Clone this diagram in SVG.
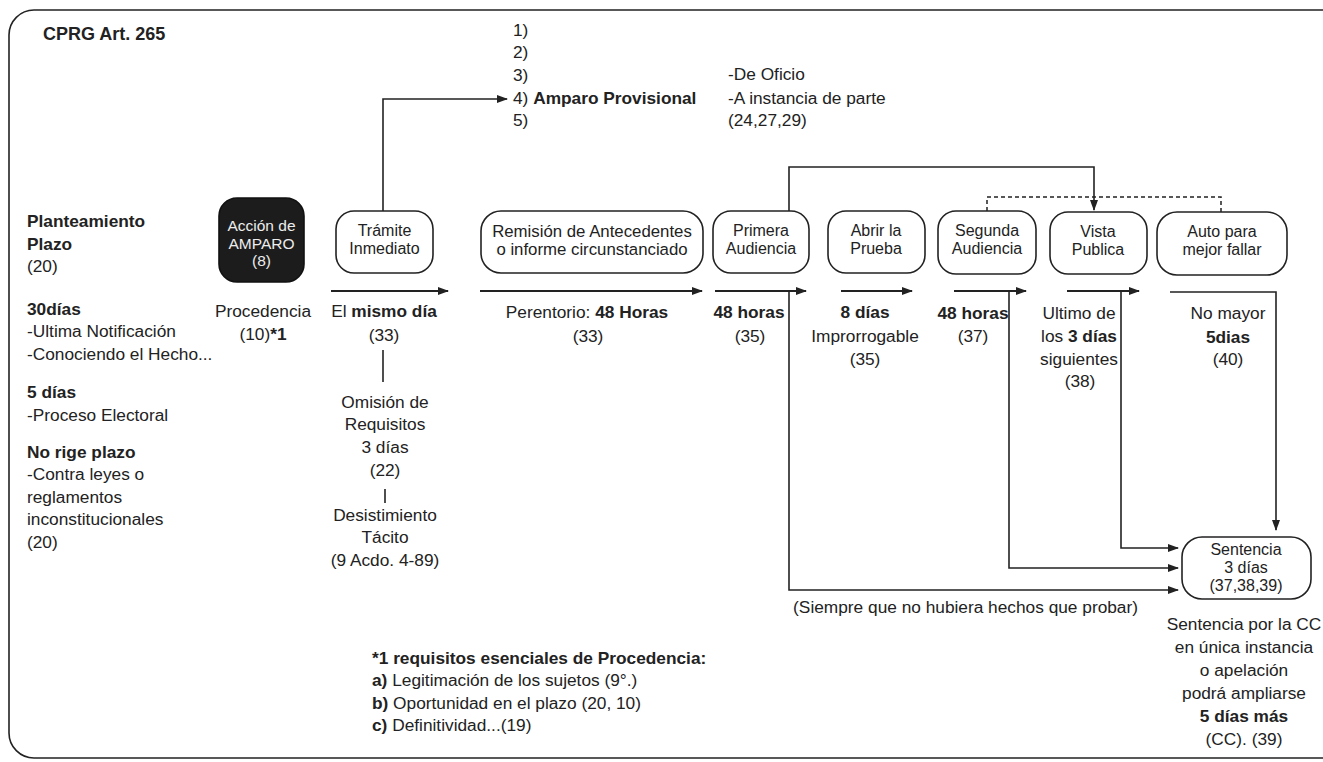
<svg xmlns="http://www.w3.org/2000/svg" width="1323" height="762" viewBox="0 0 1323 762">
<style>
text{font-family:"Liberation Sans",Arial,sans-serif;font-size:17.3px;fill:#222}
.b{font-weight:bold}
.c{text-anchor:middle}
.e{text-anchor:end}
.n{font-size:16px}
.box{fill:#fff;stroke:#222;stroke-width:1.6}
.ln{fill:none;stroke:#222;stroke-width:1.6}
.ar{fill:none;stroke:#222;stroke-width:2}
.dash{fill:none;stroke:#222;stroke-width:1.5;stroke-dasharray:4 3}
.w{fill:#ececec;font-size:15.5px}
</style>
<defs>
<marker id="ah" markerUnits="userSpaceOnUse" markerWidth="11" markerHeight="8" refX="10" refY="4" orient="auto">
<path d="M0,0 L11,4 L0,8 z" fill="#222"/>
</marker>
</defs>
<rect width="1323" height="762" fill="#fff"/>
<rect x="9" y="10" width="1340" height="748" rx="25" fill="none" stroke="#222" stroke-width="1.6"/>

<g id="titulo"><text x="43" y="40" class="b" style="font-size:18px">CPRG Art. 265</text></g>

<g id="lista">
<text x="513" y="36">1)</text>
<text x="513" y="58">2)</text>
<text x="513" y="81">3)</text>
<text x="513" y="104">4) <tspan class="b">Amparo Provisional</tspan></text>
<text x="513" y="126">5)</text>
<text x="728" y="80">-De Oficio</text>
<text x="728" y="104">-A instancia de parte</text>
<text x="728" y="126">(24,27,29)</text>
</g>

<g id="plazos">
<text x="27" y="227" class="b">Planteamiento</text>
<text x="27" y="250" class="b">Plazo</text>
<text x="27" y="272">(20)</text>
<text x="27" y="315" class="b">30días</text>
<text x="27" y="337">-Ultima Notificación</text>
<text x="27" y="360">-Conociendo el Hecho...</text>
<text x="27" y="398" class="b">5 días</text>
<text x="27" y="421">-Proceso Electoral</text>
<text x="27" y="458" class="b">No rige plazo</text>
<text x="27" y="480">-Contra leyes o</text>
<text x="27" y="503">reglamentos</text>
<text x="27" y="525">inconstitucionales</text>
<text x="27" y="548">(20)</text>
</g>

<g id="connectors">
<path class="ln" d="M383,211 V99 H507" marker-end="url(#ah)"/>
<path class="ln" d="M789,211 V167 H1094 V210" marker-end="url(#ah)"/>
<path class="dash" d="M987,211 V197 H1221 V212"/>
<path class="ar" d="M331,291 H448" marker-end="url(#ah)"/>
<path class="ar" d="M480,291 H702" marker-end="url(#ah)"/>
<path class="ar" d="M715,291 H806" marker-end="url(#ah)"/>
<path class="ar" d="M841,291 H912" marker-end="url(#ah)"/>
<path class="ar" d="M954,291 H1026" marker-end="url(#ah)"/>
<path class="ar" d="M1067,291 H1139" marker-end="url(#ah)"/>
<path class="ln" d="M1170,292 H1276 V530" marker-end="url(#ah)"/>
<path class="ln" d="M1121,292 V548 H1178" marker-end="url(#ah)"/>
<path class="ln" d="M1009,292 V568 H1178" marker-end="url(#ah)"/>
<path class="ln" d="M789,292 V590 H1178" marker-end="url(#ah)"/>
<path class="ln" d="M383,350 V382"/>
<path class="ln" d="M385,489 V503"/>
</g>

<g id="accion">
<rect x="219" y="198" width="85" height="84" rx="18" fill="#1c1c1c" stroke="#111" stroke-width="1.6"/>
<text x="261.5" y="231" class="c w">Acción de</text>
<text x="261.5" y="248.5" class="c w">AMPARO</text>
<text x="261.5" y="266" class="c w">(8)</text>
<text x="263" y="317" class="c">Procedencia</text>
<text x="263" y="340" class="c">(10)<tspan class="b">*1</tspan></text>
</g>

<g id="tramite">
<rect class="box" x="336" y="211" width="97" height="62" rx="18"/>
<text x="384.5" y="236" class="c n">Trámite</text>
<text x="384.5" y="254" class="c n">Inmediato</text>
<text x="384" y="317" class="c">El <tspan class="b">mismo día</tspan></text>
<text x="384" y="341" class="c">(33)</text>
<text x="385" y="408" class="c">Omisión de</text>
<text x="385" y="430" class="c">Requisitos</text>
<text x="385" y="453" class="c">3 días</text>
<text x="385" y="476" class="c">(22)</text>
<text x="385" y="521" class="c">Desistimiento</text>
<text x="385" y="543" class="c">Tácito</text>
<text x="385" y="566" class="c">(9 Acdo. 4-89)</text>
</g>

<g id="remision">
<rect class="box" x="481" y="211" width="222" height="62" rx="20"/>
<text x="592" y="237" class="c n" style="font-size:16.8px">Remisión de Antecedentes</text>
<text x="592" y="255" class="c n" style="font-size:16.8px">o informe circunstanciado</text>
<text x="587" y="318" class="c">Perentorio: <tspan class="b">48 Horas</tspan></text>
<text x="588" y="342" class="c">(33)</text>
</g>

<g id="primera">
<rect class="box" x="713" y="211" width="96" height="62" rx="18"/>
<text x="761" y="236" class="c n">Primera</text>
<text x="761" y="254" class="c n">Audiencia</text>
<text x="749" y="318" class="c b">48 horas</text>
<text x="750" y="342" class="c">(35)</text>
</g>

<g id="prueba">
<rect class="box" x="828" y="211" width="97" height="62" rx="18"/>
<text x="876" y="236" class="c n">Abrir la</text>
<text x="876" y="254" class="c n">Prueba</text>
<text x="865" y="318" class="c b">8 días</text>
<text x="865" y="342" class="c">Improrrogable</text>
<text x="865" y="365" class="c">(35)</text>
</g>

<g id="segunda">
<rect class="box" x="938" y="211" width="98" height="63" rx="18"/>
<text x="987" y="236" class="c n">Segunda</text>
<text x="987" y="254" class="c n">Audiencia</text>
<text x="973" y="319" class="c b">48 horas</text>
<text x="973" y="342" class="c">(37)</text>
</g>

<g id="vista">
<rect class="box" x="1050" y="212" width="97" height="62" rx="18"/>
<text x="1098" y="237" class="c n">Vista</text>
<text x="1098" y="255" class="c n">Publica</text>
<text x="1079" y="319" class="c">Ultimo de</text>
<text x="1079" y="342" class="c">los <tspan class="b">3 días</tspan></text>
<text x="1079" y="365" class="c">siguientes</text>
<text x="1080" y="387" class="c">(38)</text>
</g>

<g id="auto">
<rect class="box" x="1157" y="212" width="130" height="63" rx="20"/>
<text x="1222" y="237" class="c n">Auto para</text>
<text x="1222" y="255" class="c n">mejor fallar</text>
<text x="1228" y="319" class="c">No mayor</text>
<text x="1228" y="343" class="c b">5dias</text>
<text x="1228" y="365" class="c">(40)</text>
</g>

<g id="sentencia">
<rect class="box" x="1182" y="537" width="129" height="62" rx="20"/>
<text x="1246" y="555" class="c n">Sentencia</text>
<text x="1246" y="573" class="c n">3 días</text>
<text x="1246" y="591" class="c n">(37,38,39)</text>
<text x="1138" y="613" class="e">(Siempre que no hubiera hechos que probar)</text>
<text x="1244" y="630" class="c">Sentencia por la CC</text>
<text x="1244" y="653" class="c">en única instancia</text>
<text x="1244" y="676" class="c">o apelación</text>
<text x="1244" y="699" class="c">podrá ampliarse</text>
<text x="1244" y="722" class="c b">5 días más</text>
<text x="1244" y="745" class="c">(CC). (39)</text>
</g>

<g id="nota">
<text x="372" y="664" class="b">*1 requisitos esenciales de Procedencia:</text>
<text x="372" y="686"><tspan class="b">a)</tspan> Legitimación de los sujetos (9°.)</text>
<text x="372" y="709"><tspan class="b">b)</tspan> Oportunidad en el plazo (20, 10)</text>
<text x="372" y="731"><tspan class="b">c)</tspan> Definitividad...(19)</text>
</g>
</svg>
